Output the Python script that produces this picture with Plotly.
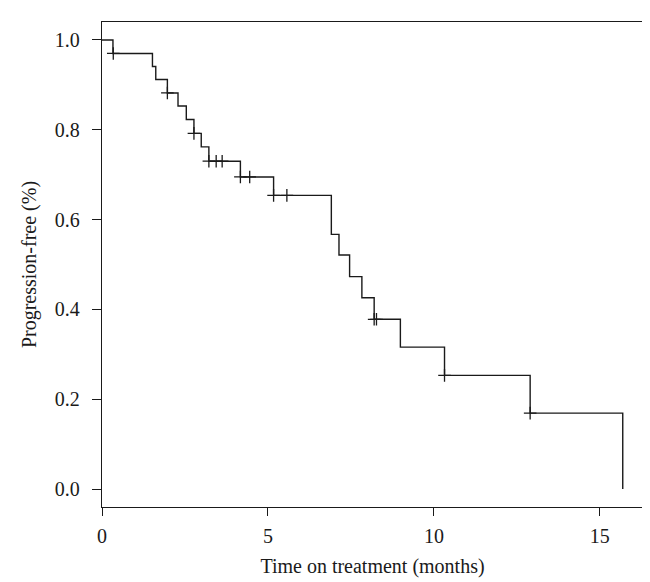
import plotly.graph_objects as go

# Kaplan-Meier step data (time in months, progression-free proportion)
event_times = [0, 0.33, 1.52, 1.62, 1.97, 2.29, 2.54, 2.77, 2.99, 3.22, 4.17,
               5.17, 6.91, 7.14, 7.46, 7.83, 8.20, 8.99, 10.32, 12.90, 15.69]
survival = [1.0, 0.970, 0.941, 0.912, 0.882, 0.853, 0.823, 0.792, 0.762, 0.730,
            0.695, 0.654, 0.567, 0.521, 0.473, 0.426, 0.378, 0.316, 0.253, 0.169, 0.0]

censor_times = [0.34, 1.97, 2.77, 3.22, 3.44, 3.62, 4.17, 4.45, 5.17, 5.57,
                8.20, 8.27, 10.32, 12.90]

x_ticks = [0, 5, 10, 15]
y_ticks = [0.0, 0.2, 0.4, 0.6, 0.8, 1.0]
y_tick_labels = ["0.0", "0.2", "0.4", "0.6", "0.8", "1.0"]


def surv_at(t):
    s = survival[0]
    for et, sv in zip(event_times, survival):
        if et <= t:
            s = sv
    return s


censor_surv = [surv_at(t) for t in censor_times]

LINE = "#1a1a1a"
FONT = "Liberation Serif"

fig = go.Figure()
fig.add_trace(go.Scatter(
    x=event_times, y=survival, mode="lines", line_shape="hv",
    line=dict(color=LINE, width=1.4), hoverinfo="skip", showlegend=False))
fig.add_trace(go.Scatter(
    x=censor_times, y=censor_surv, mode="markers",
    marker=dict(symbol="cross-thin", size=9, line=dict(color=LINE, width=1.3)),
    hoverinfo="skip", showlegend=False))

fig.update_layout(
    width=650, height=582,
    margin=dict(l=94, r=15, t=14, b=83, autoexpand=False),
    paper_bgcolor="white", plot_bgcolor="white",
    font=dict(family=FONT, size=20, color="#1a1a1a"),
    xaxis=dict(
        range=[0, 16.3], tickvals=x_ticks, ticks="outside", ticklen=8,
        tickwidth=1.3, tickcolor=LINE, showline=True, linecolor=LINE,
        linewidth=1.3, mirror=True, showgrid=False, zeroline=False,
        ticklabelstandoff=3, automargin=False,
        title=dict(text="Time on treatment (months)", font=dict(size=20),
                   standoff=12),
    ),
    yaxis=dict(
        range=[-0.04, 1.04], tickvals=y_ticks, ticktext=y_tick_labels,
        ticks="outside", ticklen=9, tickwidth=1.3, tickcolor=LINE,
        showline=True, linecolor=LINE, linewidth=1.3, mirror=True,
        showgrid=False, zeroline=False, ticklabelstandoff=8, automargin=False,
        title=dict(text="Progression-free (%)", font=dict(size=20),
                   standoff=12),
    ),
)

fig.write_html("out.html")
